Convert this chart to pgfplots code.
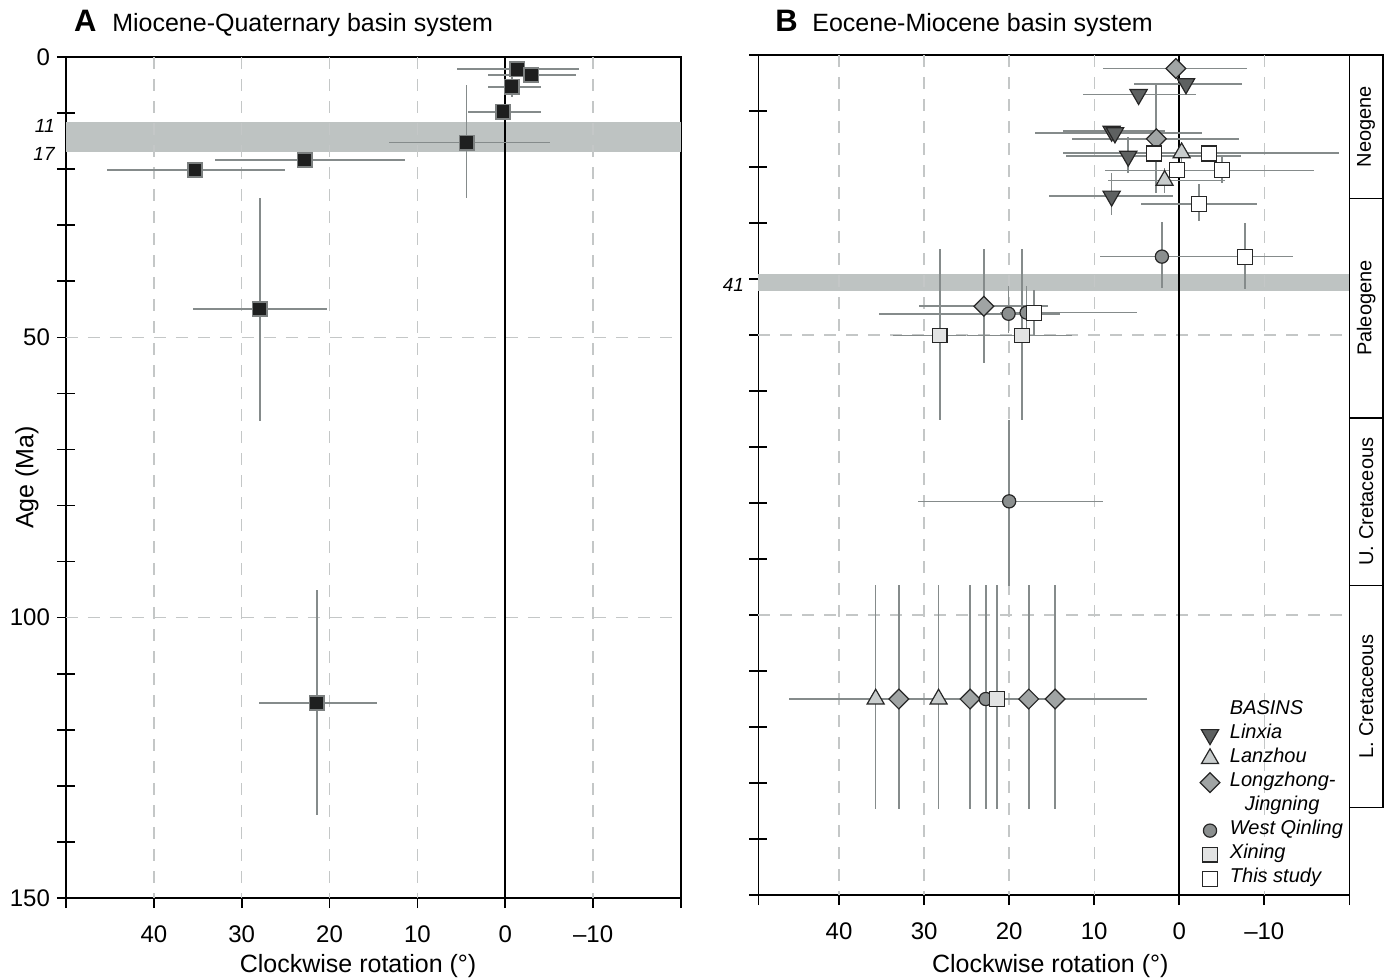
\documentclass[border=0pt]{standalone}
\usepackage{pgfplots}
\pgfplotsset{compat=1.18}
\usepackage{pgfplotstable}
\usepackage{fontspec}
\setmainfont{Liberation Sans}
\definecolor{bandc}{HTML}{BEC3C2}
\definecolor{gridc}{HTML}{C4C7C7}
\definecolor{errc}{HTML}{858B8B}
\definecolor{linxc}{HTML}{5E6161}
\definecolor{lanzc}{HTML}{C9CDCD}
\definecolor{longc}{HTML}{A0A4A4}
\definecolor{wqc}{HTML}{8B8F8F}
\definecolor{xinc}{HTML}{E2E3E3}
\definecolor{sqA}{HTML}{1E1F1F}
\definecolor{sqAedge}{HTML}{7C8080}

% Panel A: Miocene-Quaternary basin system
\pgfplotstableread{
x y xp xm yp ym
-1.39 2.19 6.87 6.97 0 0
-2.98 3.21 4.94 5.04 0 0
-0.74 5.3 2.7 3.38 1.8 1.8
0.25 9.76 3.98 4.37 0 0
4.41 15.28 8.8 9.55 9.92 10.28
22.81 18.37 10.24 11.38 0 0
35.32 20.15 10.0 10.3 0 0
27.93 44.94 7.6 7.6 20 19.8
21.45 115.2 6.6 6.8 20 20.2
}\tabA

% Panel B
\pgfplotstableread{
x y xp xm yp ym
-0.79 5.14 6.08 6.55 0 0
4.78 7.05 6.5 6.7 0 0
7.95 13.6 5.7 6.3 0 0
7.56 13.9 9.4 10.2 0 0
6.0 18.07 7.3 13.3 3.0 3.4
7.95 25.2 7.35 7.25 3.3 4.2
}\tabLinxia
\pgfplotstableread{
x y xp xm yp ym
-0.28 17.46 14.0 18.5 2 2
1.72 22.4 6.6 7.1 2.2 2.3
35.7 115 4 4 19.7 20.3
28.3 115 4 4 19.7 20.3
}\tabLanzhou
\pgfplotstableread{
x y xp xm yp ym
0.39 2.41 8.6 8.3 0 0
2.7 14.96 9.96 9.72 9.65 10
22.98 44.86 7.6 7.6 10.1 10.2
32.98 115 4 4 19.7 20.3
24.6 115 4 4 19.7 20.3
17.7 115 4 4 19.7 20.3
14.6 115 4 4 19.7 20.3
}\tabLongzhong
\pgfplotstableread{
x y xp xm yp ym
2.04 36.0 7.3 7.0 5.6 6.2
20.07 46.2 15.2 6 3.4 4.9
17.95 46.0 3 3 4.2 4.7
20.0 79.7 10.7 11.0 15.2 14.6
22.75 115 23.1 19.0 19.7 20.3
}\tabWQ
\pgfplotstableread{
x y xp xm yp ym
28.16 50.1 5.5 3.1 15.0 15.4
18.47 50.1 6.5 5.8 15.0 15.4
21.45 115 4 4 19.7 20.3
}\tabXining
\pgfplotstableread{
x y xp xm yp ym
2.98 17.6 8.1 8.4 0 0
-3.53 17.6 8.1 8.9 0 0
0.31 20.6 8.4 16.1 0 0
-5.06 20.6 6 6 2.2 2.5
-2.35 26.6 6.9 6.8 3.1 3.6
-7.73 36.0 5.65 5.7 5.75 6.0
17.1 46.0 4 12.1 4.2 4.1
}\tabThis

\tikzset{gridl/.style={gridc, line width=0.7pt, dash pattern=on 6pt off 5pt}}
\pgfplotsset{
  myaxis/.style={
    scale only axis, clip=false,
    x dir=reverse, y dir=reverse,
    ymin=0, ymax=150,
    axis line style={line width=0.8pt},
    xtick pos=bottom, ytick pos=left,
    xtick align=outside, ytick align=center,
    major tick length=9pt, minor tick length=5pt,
    tick style={line width=0.8pt, black},
    x tick style={draw=none},
    minor x tick style={draw=black, line width=0.8pt},
    tick label style={font=\fontsize{12}{14}\selectfont},
    xticklabel style={yshift=-1.5pt},
    ytick={0,10,...,150},
  },
  errp/.style={forget plot, only marks, mark=none,
    error bars/.cd, x dir=both, x explicit, y dir=both, y explicit,
    error mark=none, error bar style={errc, line width=0.8pt}},
  sqa/.style={only marks, mark=square*, mark size=3.6pt, mark options={fill=sqA, draw=sqAedge, line width=0.8pt}},
  linx/.style={only marks, mark=triangle*, mark size=5pt, mark options={rotate=180, fill=linxc, draw=black!85, line width=0.6pt}},
  lanz/.style={only marks, mark=triangle*, mark size=4.9pt, mark options={fill=lanzc, draw=black!85, line width=0.6pt}},
  longz/.style={only marks, mark=square*, mark size=3.5pt, mark options={rotate=45, fill=longc, draw=black!85, line width=0.6pt}},
  wq/.style={only marks, mark=*, mark size=3.3pt, mark options={fill=wqc, draw=black!85, line width=0.6pt}},
  xin/.style={only marks, mark=square*, mark size=3.65pt, mark options={fill=xinc, draw=black!85, line width=0.6pt}},
  thisst/.style={only marks, mark=square*, mark size=3.75pt, mark options={fill=white, draw=black!85, line width=0.6pt}},
}
\newcommand{\errtab}[1]{\addplot[errp] table[x=x,y=y,x error plus=xp,x error minus=xm,y error plus=yp,y error minus=ym] {#1};}
\newcommand{\gridlines}[1]{%
  \draw[gridl] (axis cs:40,0) -- (axis cs:40,150);
  \draw[gridl] (axis cs:30,0) -- (axis cs:30,150);
  \draw[gridl] (axis cs:20,0) -- (axis cs:20,150);
  \draw[gridl] (axis cs:10,0) -- (axis cs:10,150);
  \draw[gridl] (axis cs:-10,0) -- (axis cs:-10,150);
  \draw[gridl] (axis cs:#1,50) -- (axis cs:-20,50);
  \draw[gridl] (axis cs:#1,100) -- (axis cs:-20,100);
  \draw[black, line width=0.8pt] (axis cs:0,0) -- (axis cs:0,150);}

\begin{document}
\begin{tikzpicture}
\path[use as bounding box] (0,0) rectangle (692pt,-489pt);

% ---------------- Panel A ----------------
\begin{axis}[myaxis,
  at={(33pt,-28.5pt)}, anchor=north west,
  width=307.5pt, height=420.5pt,
  xmin=-20, xmax=50,
  xtick={50,40,30,20,10,0,-10,-20},
  minor xtick={50,40,30,20,10,0,-10,-20},
  xticklabels={,40,30,20,10,0,\textendash10,},
  yticklabels={0,,,,,50,,,,,100,,,,,150},
  xlabel={Clockwise rotation (°)},
  ylabel={Age (Ma)},
  every axis x label/.style={at={(axis description cs:0.475,-0.081)}, anchor=center, font=\fontsize{12.5}{15}\selectfont},
  every axis y label/.style={at={(axis description cs:-0.0634,0.5)}, anchor=center, rotate=90, font=\fontsize{12.5}{15}\selectfont},
]
\fill[bandc] (axis cs:-20,11.6) rectangle (axis cs:50,17.0);
\gridlines{50}
\errtab{\tabA}
\addplot[sqa] table[x=x,y=y] {\tabA};
\node[anchor=east, inner sep=0pt, font=\itshape\fontsize{9.5}{11}\selectfont] at ([xshift=-5.5pt]axis cs:50,12.3) {11};
\node[anchor=east, inner sep=0pt, font=\itshape\fontsize{9.5}{11}\selectfont] at ([xshift=-5.5pt]axis cs:50,17.3) {17};
\end{axis}

% ---------------- Panel B ----------------
\begin{axis}[myaxis,
  at={(379.15pt,-27.5pt)}, anchor=north west,
  width=295.5pt, height=420pt,
  xmin=-20, xmax=49.5,
  xtick={49.5,40,30,20,10,0,-10,-20},
  minor xtick={49.5,40,30,20,10,0,-10,-20},
  xticklabels={,40,30,20,10,0,\textendash10,},
  yticklabels={},
  xlabel={Clockwise rotation (°)},
  every axis x label/.style={at={(axis description cs:0.494,-0.084)}, anchor=center, font=\fontsize{12.5}{15}\selectfont},
  legend style={at={(1,0)}, anchor=south east, draw=none, fill=none,
    font=\fontsize{10}{12}\selectfont\itshape, inner sep=2pt, row sep=0pt, column sep=4pt,
    nodes={inner sep=1pt, text height=7pt, text depth=3pt}},
  legend cell align=left,
]
\fill[bandc] (axis cs:-20,39.1) rectangle (axis cs:49.5,42.1);
\gridlines{49.5}
\errtab{\tabLinxia}
\errtab{\tabLanzhou}
\errtab{\tabLongzhong}
\errtab{\tabWQ}
\errtab{\tabXining}
\errtab{\tabThis}
\addlegendimage{empty legend}\addlegendentry{BASINS}
\addplot[linx] table[x=x,y=y] {\tabLinxia}; \addlegendentry{Linxia}
\addplot[lanz] table[x=x,y=y] {\tabLanzhou}; \addlegendentry{Lanzhou}
\addplot[longz] table[x=x,y=y] {\tabLongzhong}; \addlegendentry{Longzhong-}
\addlegendimage{empty legend}\addlegendentry{\hspace*{7.5pt}Jingning}
\addplot[wq] table[x=x,y=y] {\tabWQ}; \addlegendentry{West Qinling}
\addplot[xin] table[x=x,y=y] {\tabXining}; \addlegendentry{Xining}
\addplot[thisst] table[x=x,y=y] {\tabThis}; \addlegendentry{This study}
\node[anchor=east, inner sep=0pt, font=\itshape\fontsize{9.5}{11}\selectfont] at ([xshift=-7pt]axis cs:49.5,41.1) {41};
% stage column
\draw[line width=0.8pt] (axis cs:-20,0) -- (axis cs:-23.96,0) -- (axis cs:-23.96,134.4) -- (axis cs:-20,134.4);
\draw[line width=0.8pt] (axis cs:-20,25.6) -- (axis cs:-23.96,25.6);
\draw[line width=0.8pt] (axis cs:-20,64.8) -- (axis cs:-23.96,64.8);
\draw[line width=0.8pt] (axis cs:-20,94.7) -- (axis cs:-23.96,94.7);
\node[rotate=90, font=\fontsize{10}{12}\selectfont] at (axis cs:-21.98,12.8) {Neogene};
\node[rotate=90, font=\fontsize{10}{12}\selectfont] at (axis cs:-21.98,45.2) {Paleogene};
\node[rotate=90, font=\fontsize{10}{12}\selectfont] at (axis cs:-21.98,79.75) {U. Cretaceous};
\node[rotate=90, font=\fontsize{10}{12}\selectfont] at (axis cs:-21.98,114.55) {L. Cretaceous};
\end{axis}

% titles
\node[anchor=base west, inner sep=0pt, font=\bfseries\fontsize{15.5}{18}\selectfont] at (36.9pt,-15.85pt) {A};
\node[anchor=base west, inner sep=0pt, font=\fontsize{12.5}{15}\selectfont] at (55.95pt,-15.85pt) {Miocene-Quaternary basin system};
\node[anchor=base west, inner sep=0pt, font=\bfseries\fontsize{15.5}{18}\selectfont] at (387.5pt,-15.85pt) {B};
\node[anchor=base west, inner sep=0pt, font=\fontsize{12.5}{15}\selectfont] at (406pt,-15.85pt) {Eocene-Miocene basin system};
\end{tikzpicture}
\end{document}
